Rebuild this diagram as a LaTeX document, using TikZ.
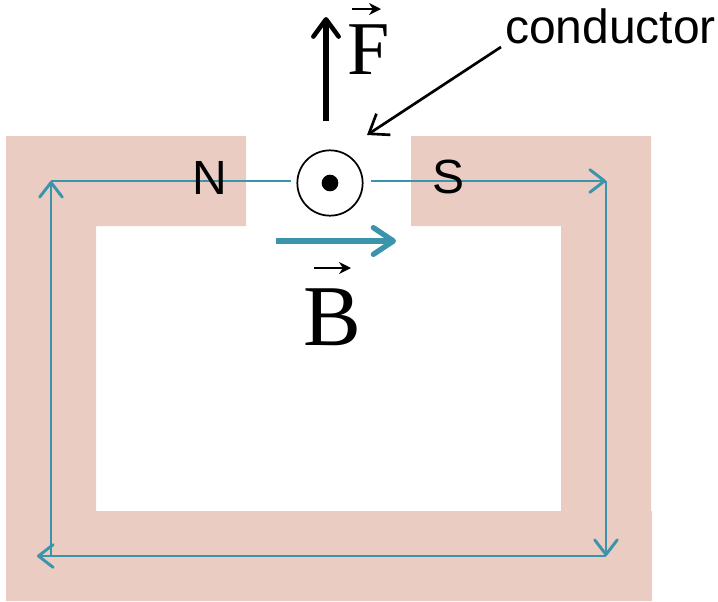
\documentclass[tikz,border=0pt]{standalone}
\usepackage{fontspec}
\usetikzlibrary{arrows.meta}
\setmainfont{Liberation Sans}
\newfontfamily\serifletter{Liberation Serif}
\definecolor{corepink}{HTML}{EACCC3}
\definecolor{fluxteal}{HTML}{3A94AB}
\tikzset{
    fluxline/.style={draw=fluxteal, line width=2.2pt, -{Straight Barb[length=11pt,width=17pt,line width=2.2pt,round]}},
    fluxplain/.style={draw=fluxteal, line width=2.2pt},
    poletext/.style={inner sep=0pt, font=\fontsize{36}{36}\selectfont},
    vectext/.style={inner sep=0pt, anchor=base},
    vecbar/.style={draw=black, line width=1.5pt, -{Stealth[length=9pt,width=9pt]}}
}
\begin{document}
\begin{tikzpicture}[x=0.75pt, y=-0.75pt]
    \useasboundingbox (0,0) rectangle (718,601);
    % core
    \fill[corepink] (6,136) -- (246,136) -- (246,226) -- (96,226) -- (96,511) -- (561,511) -- (561,226)
        -- (411,226) -- (411,136) -- (651,136) -- (651,511) -- (652,511) -- (652,601) -- (6,601) -- cycle;

    \coordinate (lefttop) at (51,181);
    \coordinate (leftbot) at (51,556);
    \coordinate (righttop) at (606,181);
    \coordinate (rightbot) at (606,556);
    \coordinate (gapleft) at (291,181);
    \coordinate (gapright) at (371,181);
    \coordinate (leftend) at (37,556);

    % flux
    \draw[fluxplain] (lefttop) -- (gapleft);
    \draw[fluxline] (gapright) -- (righttop);
    \draw[fluxline] (righttop) -- (rightbot);
    \draw[fluxline] (rightbot) -- (leftend);
    \draw[fluxline] (leftbot) -- (lefttop);

    \node[poletext] (npole) at (209.5,178) {N};
    \node[poletext] (spole) at (449,177) {S};

    % wire
    \node[draw=black, line width=1.3pt, circle, minimum size=49pt, inner sep=0pt] (wire) at (330,183) {};
    \node[fill=black, circle, minimum size=12.5pt, inner sep=0pt] (wiredot) at (wire.center) {};

    % force
    \coordinate (forcefoot) at (326,121);
    \coordinate (forcetip) at (326,17);
    \draw[draw=black, line width=4pt, -{Straight Barb[length=13pt,width=19pt,line width=3.4pt,round]}] (forcefoot) -- (forcetip);
    \node[vectext, font=\serifletter\fontsize{57}{57}\selectfont] (flabel) at (369,74) {F};
    \coordinate (fbarl) at (352,9);
    \coordinate (fbarr) at (381,9);
    \draw[vecbar] (fbarl) -- (fbarr);

    % field
    \coordinate (fieldfoot) at (276,241);
    \coordinate (fieldtip) at (396,241);
    \draw[draw=fluxteal, line width=4pt, -{Straight Barb[length=15pt,width=20pt,line width=4pt,round]}] (fieldfoot) -- (fieldtip);
    \node[vectext, font=\serifletter\fontsize{65}{65}\selectfont] (blabel) at (332,345) {B};
    \coordinate (bbarl) at (314,268);
    \coordinate (bbarr) at (351,268);
    \draw[vecbar] (bbarl) -- (bbarr);

    % label
    \node[poletext, anchor=base] (condlabel) at (610.5,43) {conductor};
    \coordinate (condfoot) at (501,47);
    \coordinate (condtip) at (367,135);
    \draw[draw=black, line width=2pt, -{Straight Barb[length=13pt,width=19pt,line width=2pt]}] (condfoot) -- (condtip);
\end{tikzpicture}
\end{document}
